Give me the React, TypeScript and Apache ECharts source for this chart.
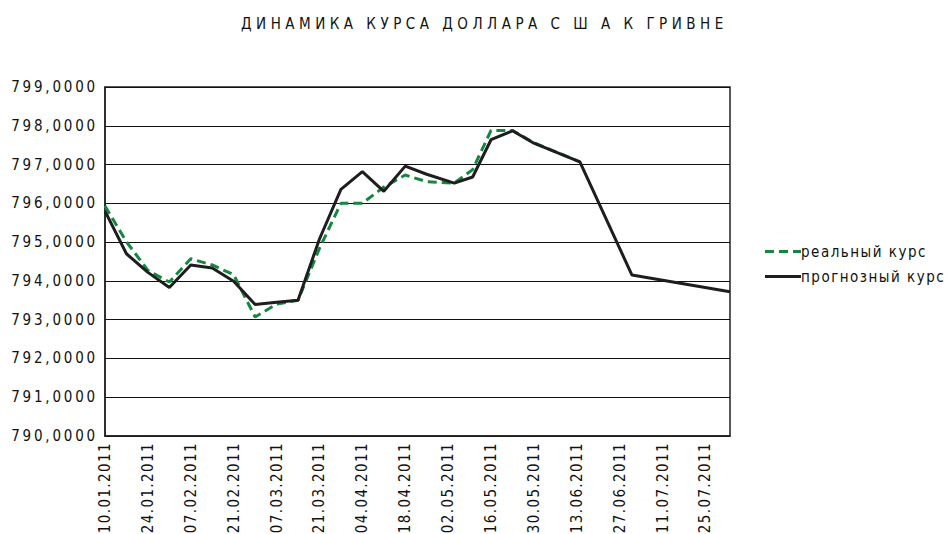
import React, { useEffect, useRef } from "react";
import * as echarts from "echarts";

const titleText = "ДИНАМИКА КУРСА ДОЛЛАРА С Ш А К ГРИВНЕ";
const realName = "реальный курс";
const forecastName = "прогнозный курс";

const realDates = [
  "10.01.2011", "17.01.2011", "24.01.2011", "31.01.2011", "07.02.2011", "14.02.2011",
  "21.02.2011", "28.02.2011", "07.03.2011", "14.03.2011", "21.03.2011", "28.03.2011",
  "04.04.2011", "11.04.2011", "18.04.2011", "25.04.2011", "04.05.2011", "10.05.2011",
  "16.05.2011", "23.05.2011", "30.05.2011", "14.06.2011",
];
const realValues = [
  795.93, 795.01, 794.27, 793.97, 794.57, 794.41,
  794.16, 793.07, 793.40, 793.50, 794.84, 796.0,
  796.0, 796.42, 796.73, 796.56, 796.52, 796.87,
  797.88, 797.88, 797.56, 797.07,
];

const forecastDates = [
  "10.01.2011", "17.01.2011", "24.01.2011", "31.01.2011", "07.02.2011", "14.02.2011",
  "21.02.2011", "28.02.2011", "07.03.2011", "14.03.2011", "21.03.2011", "28.03.2011",
  "04.04.2011", "11.04.2011", "18.04.2011", "25.04.2011", "04.05.2011", "10.05.2011",
  "16.05.2011", "23.05.2011", "30.05.2011", "14.06.2011", "01.07.2011", "02.08.2011",
];
const forecastValues = [
  795.80, 794.70, 794.22, 793.83, 794.41, 794.33,
  793.99, 793.39, 793.45, 793.50, 795.08, 796.36,
  796.82, 796.31, 796.96, 796.75, 796.52, 796.68,
  797.64, 797.87, 797.55, 797.07, 794.15, 793.72,
];

const axisStartDate = "10.01.2011";
const axisEndDate = "02.08.2011";
const tickStepDays = 14;
const yMin = 790;
const yMax = 799;
const yStep = 1;

const DAY = 86400000;
const parseDate = (s: string) => {
  const [d, m, y] = s.split(".").map(Number);
  return Date.UTC(y, m - 1, d);
};
const t0 = parseDate(axisStartDate);
const toDay = (s: string) => Math.round((parseDate(s) - t0) / DAY);
const pad = (n: number) => (n < 10 ? "0" + n : "" + n);
const fmtDay = (v: number) => {
  const dt = new Date(t0 + v * DAY);
  return pad(dt.getUTCDate()) + "." + pad(dt.getUTCMonth() + 1) + "." + dt.getUTCFullYear();
};

const FONT = "'Liberation Sans Narrow', 'DejaVu Sans Condensed', 'Open Sans', sans-serif";
const GREEN = "#15873f";
const BLACK = "#1e1e1e";

export default function App() {
  const ref = useRef<HTMLDivElement>(null);
  useEffect(() => {
    if (!ref.current) return;
    const chart = echarts.init(ref.current, undefined, { renderer: "svg" });
    chart.setOption({
      animation: false,
      backgroundColor: "#fff",
      title: {
        text: titleText,
        left: 236,
        top: 11,
        textStyle: { fontFamily: FONT, fontSize: 15, fontWeight: "normal", color: "#111" },
      },
      legend: {
        orient: "vertical",
        left: 760,
        top: 239,
        itemWidth: 36,
        itemHeight: 3,
        itemGap: 10,
        textStyle: { fontFamily: FONT, fontSize: 15, color: "#111", padding: [0, 0, 0, -5] },
        data: [
          { name: realName, icon: "path://M0,0h9v3h-9z M14,0h9v3h-9z M28,0h8v3h-8z", itemStyle: { color: GREEN } },
          { name: forecastName, icon: "path://M0,0h36v3h-36z", itemStyle: { color: BLACK } },
        ],
      },
      grid: {
        left: 105,
        right: 220,
        top: 87,
        bottom: 98,
        show: true,
        borderColor: "#222",
        borderWidth: 1.5,
        backgroundColor: "transparent",
      },
      xAxis: {
        type: "value",
        min: 0,
        max: toDay(axisEndDate),
        interval: tickStepDays,
        axisLine: { show: true, lineStyle: { color: "#222", width: 1.5 } },
        axisTick: { show: false },
        splitLine: { show: false },
        axisLabel: {
          rotate: 90,
          margin: 6,
          showMaxLabel: false,
          fontFamily: FONT,
          fontSize: 15,
          color: "#111",
          formatter: (v: number) => fmtDay(v),
        },
      },
      yAxis: {
        type: "value",
        min: yMin,
        max: yMax,
        interval: yStep,
        axisLine: { show: true, lineStyle: { color: "#222", width: 1.5 } },
        axisTick: { show: false },
        splitLine: { show: true, lineStyle: { color: "#111", width: 1.2 } },
        axisLabel: {
          margin: 7,
          fontFamily: FONT,
          fontSize: 15,
          color: "#111",
          formatter: (v: number) => v.toFixed(4).replace(".", ","),
        },
      },
      series: [
        {
          name: realName,
          type: "line",
          symbol: "none",
          z: 3,
          lineStyle: { color: GREEN, width: 3, type: [9, 5] },
          itemStyle: { color: GREEN },
          data: realDates.map((d, i) => [toDay(d), realValues[i]]),
        },
        {
          name: forecastName,
          type: "line",
          symbol: "none",
          z: 4,
          lineStyle: { color: BLACK, width: 3 },
          itemStyle: { color: BLACK },
          data: forecastDates.map((d, i) => [toDay(d), forecastValues[i]]),
        },
      ],
    });
    const texts = ref.current.querySelectorAll("text");
    texts.forEach((t) => {
      const s = t.textContent || "";
      let ls = "2.8";
      if (s === titleText) ls = "4.5";
      else if (/^\d\d\.\d\d\.\d{4}$/.test(s)) ls = "1.4";
      else if (s === realName || s === forecastName) ls = "1.5";
      t.setAttribute("letter-spacing", ls);
    });
    return () => chart.dispose();
  }, []);
  return <div ref={ref} style={{ width: 950, height: 534, position: "absolute", left: 0, top: 0 }} />;
}
